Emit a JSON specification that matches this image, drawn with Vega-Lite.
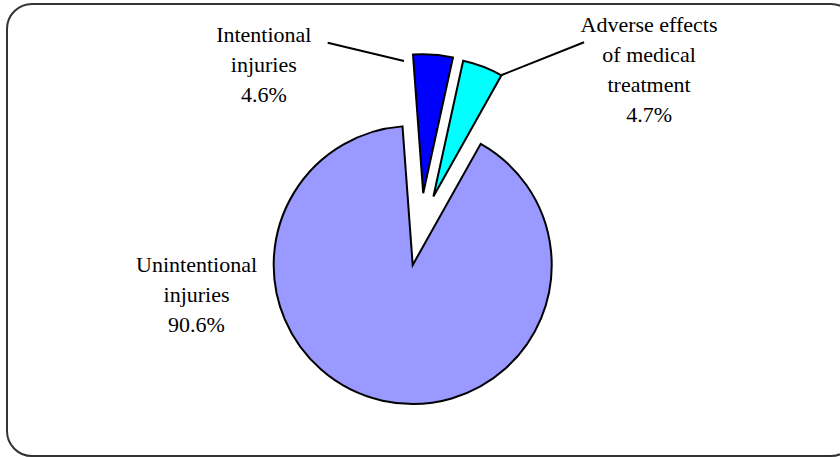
{
  "$schema": "https://vega.github.io/schema/vega-lite/v6.json",
  "width": 849,
  "height": 452,
  "autosize": {"type": "none"},
  "padding": {"left": 7, "top": 4, "right": -16, "bottom": 1},
  "background": "white",
  "view": {"stroke": "#333333", "strokeWidth": 2, "cornerRadius": 25, "fill": "white"},
  "data": {
    "values": [
      {"cause": "Unintentional injuries", "value": 90.6, "label": "Unintentional\ninjuries\n90.6%"},
      {"cause": "Intentional injuries", "value": 4.6, "label": "Intentional\ninjuries\n4.6%"},
      {"cause": "Adverse effects of medical treatment", "value": 4.7, "label": "Adverse effects\nof medical\ntreatment\n4.7%"}
    ]
  },
  "encoding": {
    "theta": {"field": "value", "type": "quantitative", "stack": true, "scale": {"domain": [0, 99.9], "range": [0.5114, 6.7946]}},
    "order": {"field": "cause", "sort": "descending"}
  },
  "layer": [
    {
      "mark": {"type": "arc", "radius": 139, "fill": "#9999FF", "stroke": "#000000", "strokeWidth": 2, "xOffset": -18.8, "yOffset": 35},
      "encoding": {"opacity": {"condition": {"test": "datum.cause === 'Unintentional injuries'", "value": 1}, "value": 0}}
    },
    {
      "mark": {"type": "arc", "radius": 139, "fill": "#0000FF", "stroke": "#000000", "strokeWidth": 2, "xOffset": -8.3, "yOffset": -36.8},
      "encoding": {"opacity": {"condition": {"test": "datum.cause === 'Intentional injuries'", "value": 1}, "value": 0}}
    },
    {
      "mark": {"type": "arc", "radius": 139, "fill": "#00FFFF", "stroke": "#000000", "strokeWidth": 2, "xOffset": 1.9, "yOffset": -33.5},
      "encoding": {"opacity": {"condition": {"test": "datum.cause === 'Adverse effects of medical treatment'", "value": 1}, "value": 0}}
    },
    {
      "mark": {"type": "arc", "radius": 78.5, "fill": null, "filled": false, "stroke": "#000000", "strokeWidth": 2, "strokeDash": [0, 101.2, 80, 1000], "thetaOffset": -1.5513, "xOffset": -27.5, "yOffset": -169},
      "encoding": {"opacity": {"condition": {"test": "datum.cause === 'Intentional injuries'", "value": 1}, "value": 0}}
    },
    {
      "mark": {"type": "arc", "radius": 88.6, "fill": null, "filled": false, "stroke": "#000000", "strokeWidth": 2, "strokeDash": [0, 114.8, 90, 1000], "thetaOffset": 0.6813, "xOffset": 70.2, "yOffset": -155},
      "encoding": {"opacity": {"condition": {"test": "datum.cause === 'Adverse effects of medical treatment'", "value": 1}, "value": 0}}
    },
    {
      "mark": {"type": "text", "font": "Liberation Serif", "fontSize": 22, "lineBreak": "\n", "lineHeight": 30, "align": "center", "baseline": "alphabetic", "color": "#000000", "radius": 92, "dx": -215, "dy": -48.1},
      "encoding": {
        "text": {"field": "label"},
        "opacity": {"condition": {"test": "datum.cause === 'Unintentional injuries'", "value": 1}, "value": 0}
      }
    },
    {
      "mark": {"type": "text", "font": "Liberation Serif", "fontSize": 22, "lineBreak": "\n", "lineHeight": 30, "align": "center", "baseline": "alphabetic", "color": "#000000", "radius": 176, "dx": -180.2, "dy": -12.7},
      "encoding": {
        "text": {"field": "label"},
        "opacity": {"condition": {"test": "datum.cause === 'Intentional injuries'", "value": 1}, "value": 0}
      }
    },
    {
      "mark": {"type": "text", "font": "Liberation Serif", "fontSize": 22, "lineBreak": "\n", "lineHeight": 30, "align": "center", "baseline": "alphabetic", "color": "#000000", "radius": 263, "dx": 124, "dy": 47.5},
      "encoding": {
        "text": {"field": "label"},
        "opacity": {"condition": {"test": "datum.cause === 'Adverse effects of medical treatment'", "value": 1}, "value": 0}
      }
    }
  ]
}
